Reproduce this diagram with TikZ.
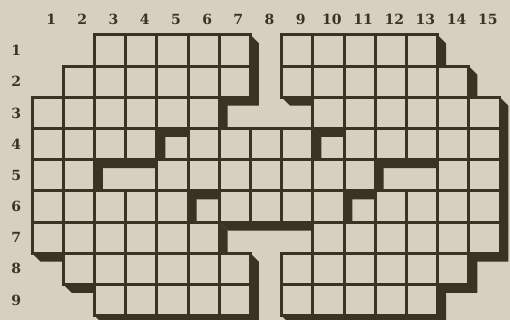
\documentclass[tikz,border=0pt]{standalone}
\usepackage{fontspec}
\setmainfont{DejaVu Serif}
\usepackage{xcolor}
\definecolor{paper}{HTML}{D7CFBF}
\definecolor{ink}{HTML}{3A3323}

\begin{document}
\begin{tikzpicture}[x=31.2pt, y=-31.2pt,
    cellbox/.style={fill=paper, draw=ink, line width=2.9pt},
    numlabel/.style={text=ink, inner sep=0pt, font=\fontsize{14}{14}\selectfont\bfseries}]

  % paper and margins
  \fill[paper] (-1.03,-1.12) rectangle (15.32,9.13);
  \useasboundingbox (-1.03,-1.12) rectangle (15.32,9.13);

  % white squares, row by row
  \def\gridrows{1/{3,4,5,6,7,9,10,11,12,13},
                2/{2,3,4,5,6,7,9,10,11,12,13,14},
                3/{1,2,3,4,5,6,10,11,12,13,14,15},
                4/{1,2,3,4,6,7,8,9,11,12,13,14,15},
                5/{1,2,5,6,7,8,9,10,11,14,15},
                6/{1,2,3,4,5,7,8,9,10,12,13,14,15},
                7/{1,2,3,4,5,6,10,11,12,13,14,15},
                8/{2,3,4,5,6,7,9,10,11,12,13,14},
                9/{3,4,5,6,7,9,10,11,12,13}}

  % shadow — every square pushed down and right
  \foreach \r/\cl in \gridrows
    \foreach \c in \cl
      \fill[ink] (\c-1,\r-1) -- (\c,\r-1) -- (\c+0.27,\r-0.73) -- (\c+0.27,\r+0.27)
        -- (\c-0.73,\r+0.27) -- (\c-1,\r) -- cycle;

  % the squares themselves
  \foreach \r/\cl in \gridrows
    \foreach \c in \cl
      \path[cellbox] (\c-1,\r-1) rectangle (\c,\r);

  % column numbers
  \foreach \c in {1,...,15}
    \node[numlabel] (col\c) at (\c-0.39,-0.5) {\c};

  % row numbers
  \foreach \r in {1,...,9}
    \node[numlabel] (row\r) at (-0.51,\r-0.5) {\r};

\end{tikzpicture}
\end{document}
